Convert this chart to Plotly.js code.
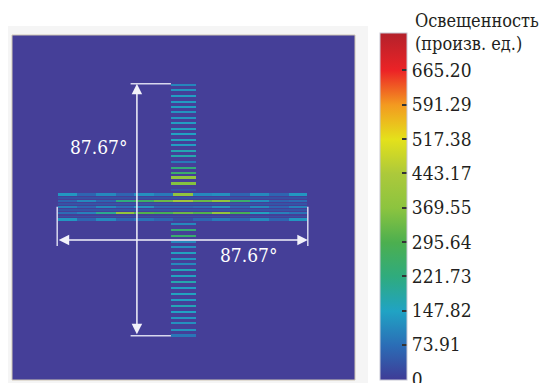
<!DOCTYPE html>
<html><head><meta charset="utf-8">
<script src="https://cdn.plot.ly/plotly-3.0.1.min.js"></script>
<style>html,body{margin:0;padding:0;background:#fff;} #chart{width:552px;height:383px;}</style>
</head><body><div id="chart"></div>
<script>
// ---- colour bar ----
const tickVals = [0, 73.91, 147.82, 221.73, 295.64, 369.55, 443.17, 517.38, 591.29, 665.20];
const tickText = ['0','73.91','147.82','221.73','295.64','369.55','443.17','517.38','591.29','665.20'];
const tickColors = ['#3f3b96','#2b6db6','#20a3c4','#2fab7e','#4caf4f','#8cc43f','#acc93b','#e4e11b','#f39a20','#ec2326'];
const zMax = 746;
const topColor = '#b3212b';
const cbTitle = 'Освещенность<br>(произв. ед.)';

// ---- angular span annotation ----
const spanDeg = 87.67;
const spanLabel = '87.67°';

// ---- vertical stripe: bar centres (deg) and illuminance ----
const vBarY = [42.6, 40.9, 38.8, 36.7, 35.0, 33.2, 31.1, 29.4, 27.3, 25.6, 23.5, 21.7, 19.7, 17.9, 15.8, 13.7, 12.0, 10.3, 8.2, 6.1,
               -5.7, -7.8, -9.9, -12.0, -13.7, -15.8, -17.9, -19.7, -21.7, -23.8, -25.9, -28.0, -30.1, -32.2, -34.3, -36.3, -38.4, -40.2, -42.3, -44.3];
const vBarVal = [105, 125, 140, 135, 140, 125, 130, 140, 150, 145, 150, 140, 165, 170, 90, 230, 250, 380, 360, 35,
                 110, 235, 245, 105, 120, 150, 130, 110, 160, 150, 170, 140, 150, 140, 160, 145, 130, 120, 125, 85];

// ---- horizontal band: line centres (deg) and illuminance per segment (left -> right) ----
const bandY = [4.6, 2.4, 0.4, -1.8, -4.0];
const band1 = [130, 60, 110, 60, 120, 90, 380, 110, 120, 60, 110, 60, 130];
const band2 = [60, 110, 60, 220, 260, 330, 420, 330, 380, 250, 120, 60, 70];
const band3 = [100, 60, 110, 70, 120, 60, 60, 70, 120, 60, 110, 60, 100];
const band4 = [70, 100, 200, 380, 300, 280, 330, 300, 380, 280, 150, 100, 80];
const band5 = [130, 60, 110, 60, 80, 60, 30, 60, 90, 60, 110, 60, 130];
const bandVals = [band1, band2, band3, band4, band5];
// faint glow between the band lines
const gapY = [3.5, 1.4, -0.7, -2.9];
const gapVal = [30, 35, 35, 30];

// ---- geometry (deg) ----
const stripeX = 0, stripeHalfW = 4.0;
const bandCx = -0.35, bandHalf = spanDeg / 2 - 0.2;
const crossCy = -0.8;
const lineHalf = 0.4;

// build grid
const xStep = 0.5, yStep = 0.35;
const xs = [], ys = [];
for (let i = 0; i <= 180; i++) xs.push(-45 + i * xStep);
for (let i = 0; i <= 263; i++) ys.push(-46 + i * yStep);
const z = ys.map(() => xs.map(() => null));
function inBand(x) { const d = x - (bandCx - bandHalf); return d >= 0 && d <= 2 * bandHalf; }
gapY.forEach((yc, k) => {
  ys.forEach((y, i) => {
    if (Math.abs(y - yc) > 0.2) return;
    xs.forEach((x, j) => { if (inBand(x)) z[i][j] = gapVal[k]; });
  });
});
vBarY.forEach((yc, k) => {
  ys.forEach((y, i) => {
    if (Math.abs(y - yc) > lineHalf) return;
    xs.forEach((x, j) => { if (Math.abs(x - stripeX) <= stripeHalfW) z[i][j] = vBarVal[k]; });
  });
});
bandY.forEach((yc, k) => {
  const vals = bandVals[k];
  const segW = 2 * bandHalf / vals.length;
  ys.forEach((y, i) => {
    if (Math.abs(y - yc) > lineHalf) return;
    xs.forEach((x, j) => {
      if (!inBand(x)) return;
      const d = x - (bandCx - bandHalf);
      const s = Math.min(vals.length - 1, Math.floor(d / segW));
      z[i][j] = vals[s];
    });
  });
});

const colorscale = tickVals.map((v, i) => [v / zMax, tickColors[i]]).concat([[1, topColor]]);
const serif = '"DejaVu Serif Condensed", "DejaVu Serif", serif';

const trace = {
  type: 'heatmap', x: xs, y: ys, z: z, zmin: -2, zmax: zMax, zsmooth: false,
  colorscale: colorscale, hoverinfo: 'skip',
  colorbar: {
    x: (380 - 12) / 343, xanchor: 'left', xpad: 0,
    y: 0, yanchor: 'bottom', ypad: 0,
    len: 347, lenmode: 'pixels', thickness: 27, thicknessmode: 'pixels',
    outlinewidth: 1, outlinecolor: '#c8c8d4',
    tickmode: 'array', tickvals: tickVals, ticktext: tickText,
    ticks: 'inside', ticklen: 5, tickwidth: 2, tickcolor: '#333',
    ticklabeloverflow: 'allow',
    tickfont: {family: serif, size: 19, color: '#231f20'}
  }
};

const white = '#f2f2fa';
const half = spanDeg / 2;
const vArrowX = -16.3, hArrowY = -11.3;
const layout = {
  width: 552, height: 383,
  margin: {l: 12, r: 197, t: 35, b: 3},
  paper_bgcolor: '#ffffff', plot_bgcolor: '#453f98',
  xaxis: {range: [-60, 60], visible: false, fixedrange: true},
  yaxis: {range: [-60, 60], visible: false, fixedrange: true},
  showlegend: false,
  shapes: [
    {type: 'rect', xref: 'paper', yref: 'paper', x0: -0.0117, x1: 1.038, y0: -0.02, y1: 1.026,
     fillcolor: '#f5f5f5', line: {width: 0}, layer: 'below'},
    {type: 'rect', xref: 'paper', yref: 'paper', x0: 0, x1: 1, y0: 0, y1: 1,
     fillcolor: '#453f98', line: {color: '#cfc6b4', width: 1}, layer: 'below'},
    {type: 'line', x0: vArrowX - 2.2, x1: -stripeHalfW - 0.4, y0: crossCy + half, y1: crossCy + half, line: {color: '#d8d8ee', width: 1.5}},
    {type: 'line', x0: vArrowX - 2.2, x1: -stripeHalfW - 0.4, y0: crossCy - half, y1: crossCy - half, line: {color: '#d8d8ee', width: 1.5}},
    {type: 'line', x0: bandCx - half, x1: bandCx - half, y0: 0.3, y1: hArrowY - 2.1, line: {color: '#d8d8ee', width: 1.5}},
    {type: 'line', x0: bandCx + half, x1: bandCx + half, y0: 0.3, y1: hArrowY - 2.1, line: {color: '#d8d8ee', width: 1.5}}
  ],
  annotations: [
    {x: vArrowX, y: crossCy + half, ax: vArrowX, ay: crossCy - half, xref: 'x', yref: 'y', axref: 'x', ayref: 'y',
     text: '', showarrow: true, arrowside: 'end+start', arrowhead: 2, arrowsize: 1.4, arrowwidth: 1.5, arrowcolor: white},
    {x: bandCx + half, y: hArrowY, ax: bandCx - half, ay: hArrowY, xref: 'x', yref: 'y', axref: 'x', ayref: 'y',
     text: '', showarrow: true, arrowside: 'end+start', arrowhead: 2, arrowsize: 1.4, arrowwidth: 1.5, arrowcolor: white},
    {x: -29.6, y: 21.0, xref: 'x', yref: 'y', text: spanLabel, showarrow: false,
     font: {family: serif, size: 19, color: '#ffffff'}},
    {x: 22.6, y: -16.5, xref: 'x', yref: 'y', text: spanLabel, showarrow: false,
     font: {family: serif, size: 19, color: '#ffffff'}},
    {x: (413 - 12) / 343, y: 1 + (35 - 8) / 345, xref: 'paper', yref: 'paper', xanchor: 'left', yanchor: 'top', align: 'left',
     text: cbTitle, showarrow: false,
     font: {family: serif, size: 18, color: '#231f20'}}
  ]
};

Plotly.newPlot('chart', [trace], layout, {displayModeBar: false, staticPlot: true});
</script>
</body></html>
